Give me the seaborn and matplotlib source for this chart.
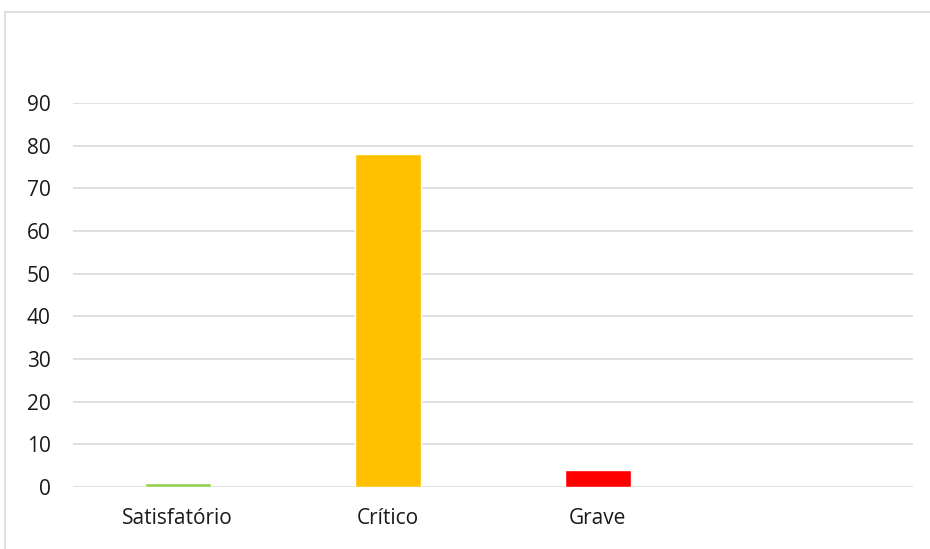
import matplotlib
matplotlib.use("Agg")
import matplotlib.pyplot as plt
import seaborn as sns
from matplotlib.patches import Rectangle

categories = ["Satisfatório", "Crítico", "Grave"]
values = [1, 78, 4]
bar_colors = ["#92D050", "#FFC000", "#FF0000"]
y_ticks = [0, 10, 20, 30, 40, 50, 60, 70, 80, 90]

sns.set_style("white")
plt.rcParams['font.family'] = ['Open Sans', 'DejaVu Sans']

fig = plt.figure(figsize=(9.3, 5.49), dpi=100)
ax = fig.add_axes([0.0782, 0.1129, 0.9035, 0.6995])

sns.barplot(x=categories, y=values, hue=categories, palette=bar_colors,
            width=0.314, legend=False, saturation=1, ax=ax)

ax.set_xlim(-0.5, 3.5)
ax.set_ylim(0, 90)
ax.set_yticks(y_ticks)
ax.yaxis.grid(True, color="#D9D9D9", linewidth=1.2)
ax.set_axisbelow(True)
for s in ax.spines.values():
    s.set_visible(False)
ax.tick_params(axis="both", length=0, labelsize=15, colors="#1a1a1a")
ax.tick_params(axis="y", pad=16)
ax.tick_params(axis="x", pad=15)
ax.set_xlabel("")
ax.set_ylabel("")

# chart area border
fig.patches.append(Rectangle((5 / 930, -0.5), 2, 1.5 - 12 / 549, transform=fig.transFigure,
                             fill=False, edgecolor="#D9D9D9", linewidth=1.2))

fig.savefig("out.png", dpi=100)
